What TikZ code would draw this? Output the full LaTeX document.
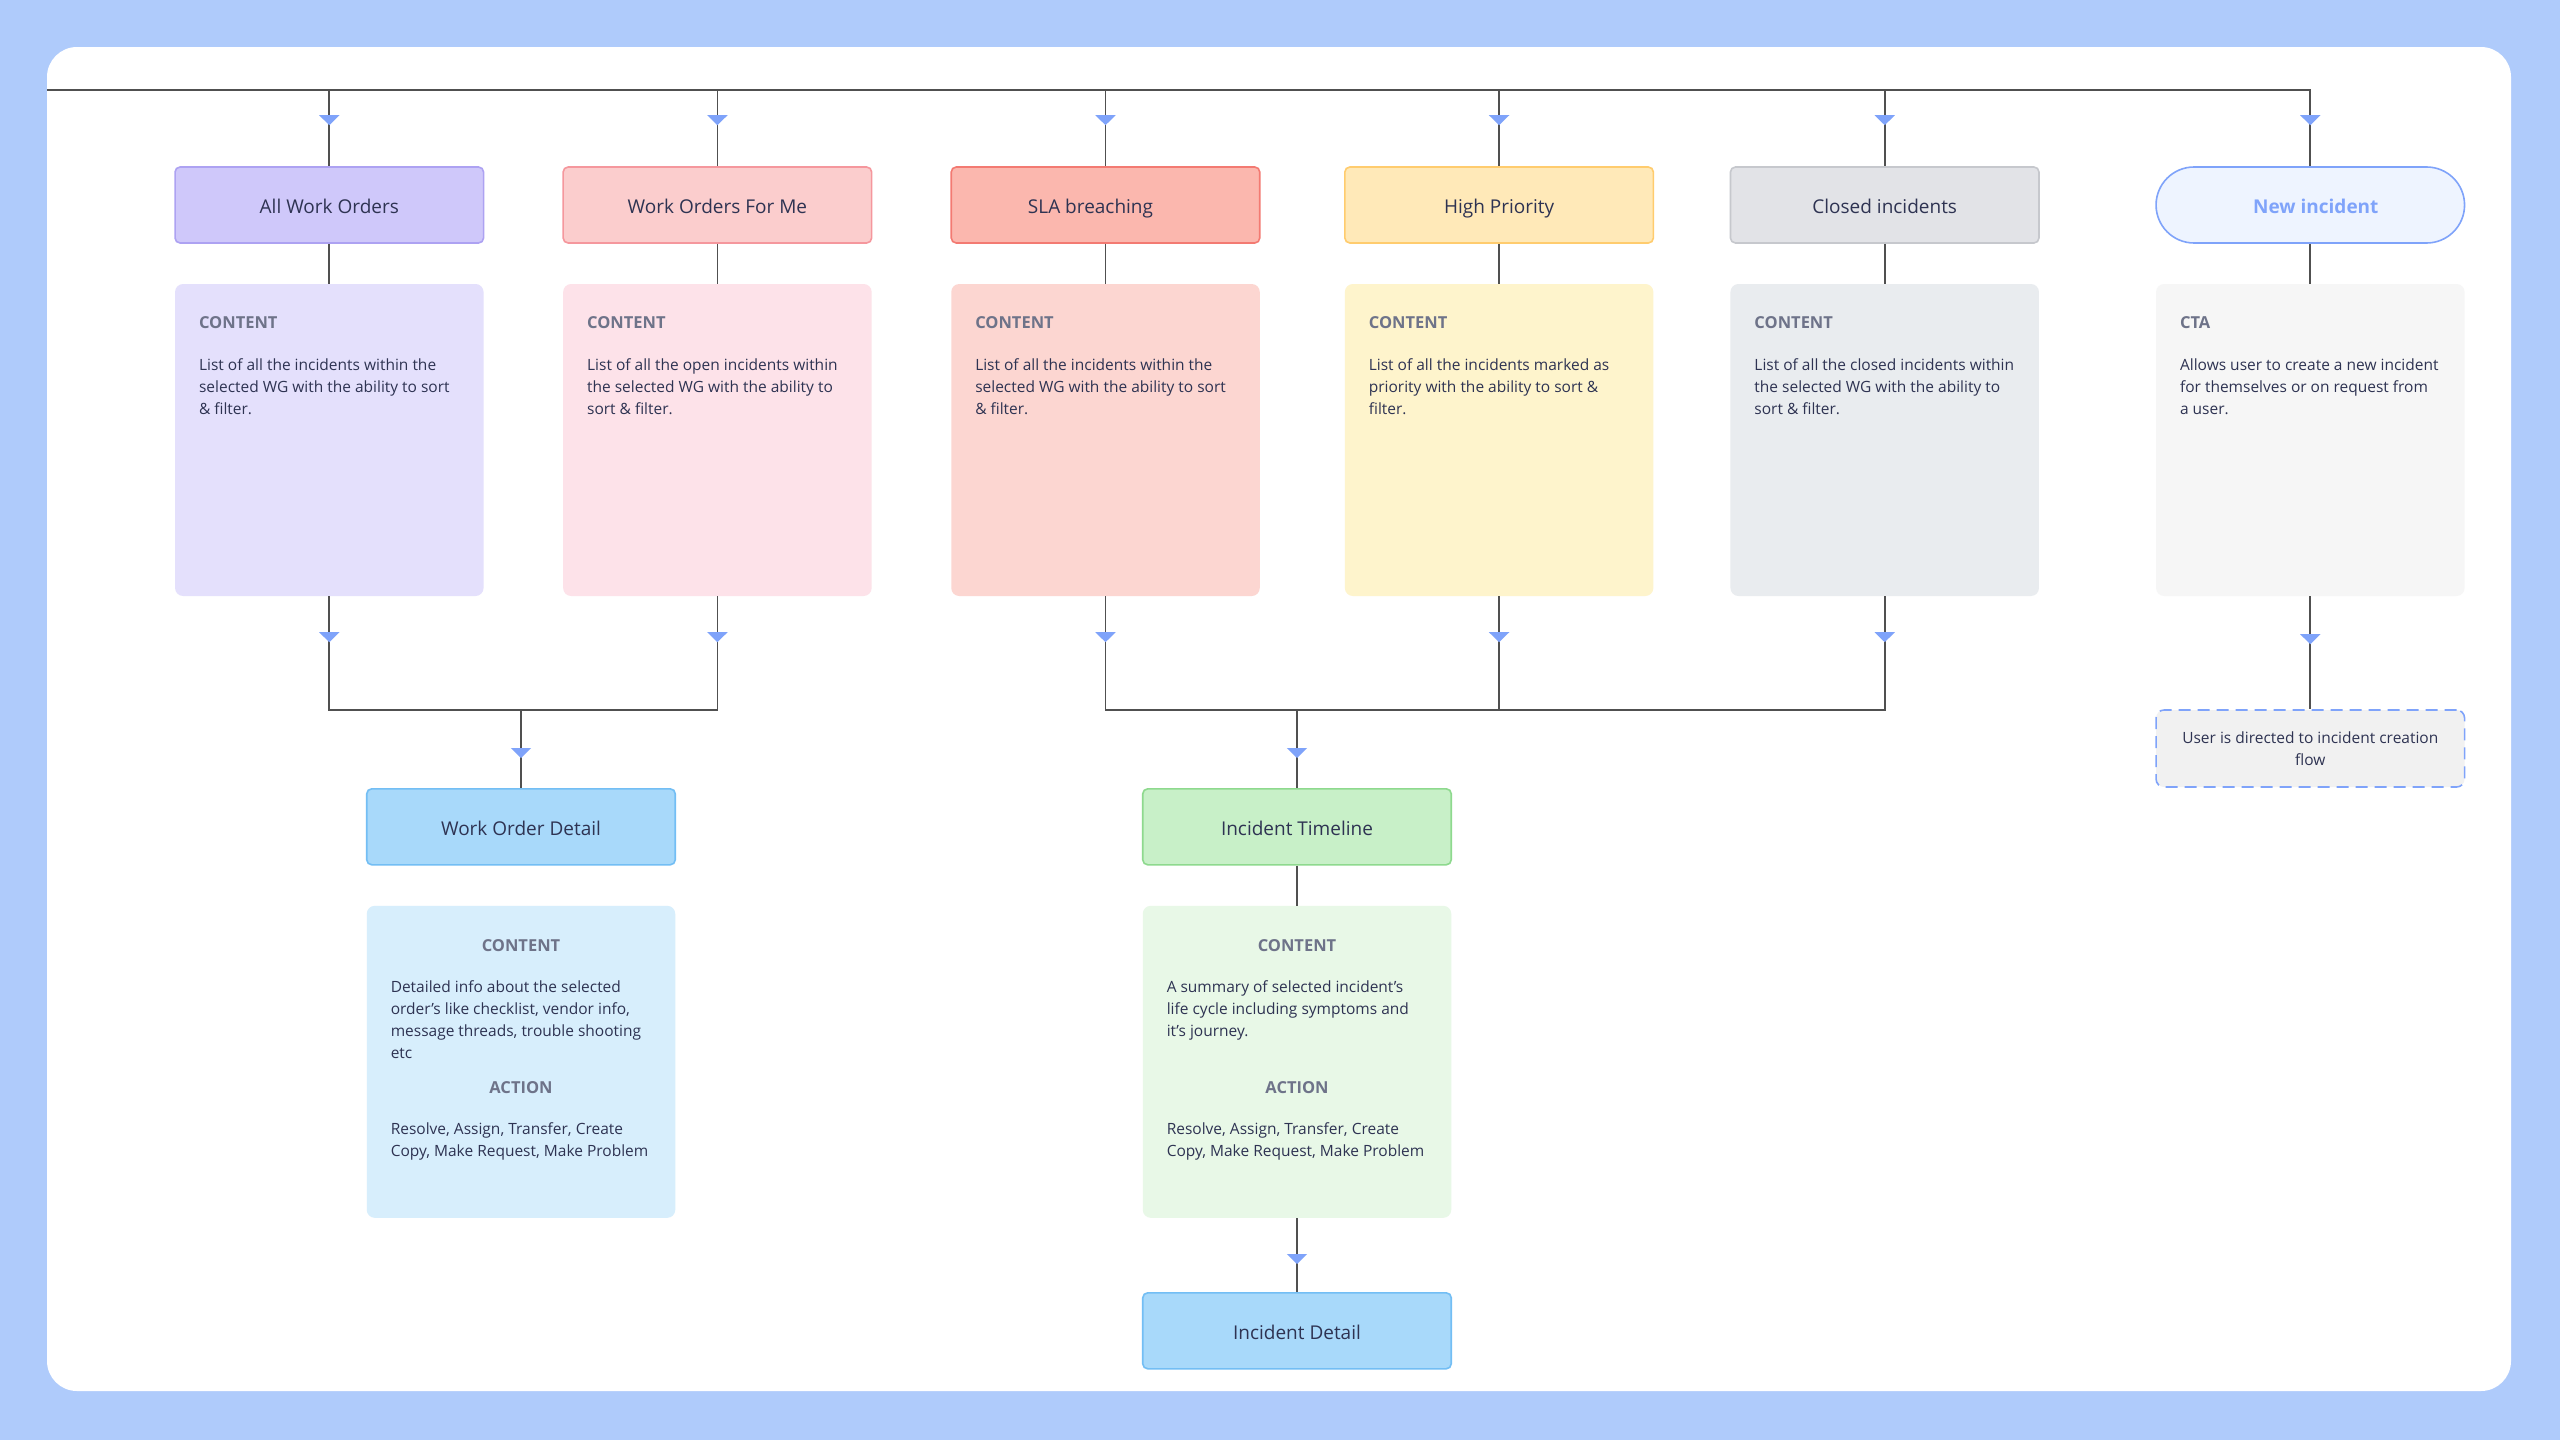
\documentclass[tikz,border=0pt]{standalone}
\usepackage{fontspec}
\setmainfont{Open Sans}
\usetikzlibrary{positioning,calc,backgrounds,arrows.meta,decorations.markings}

\begin{document}
\begin{tikzpicture}[x=1pt, y=-1pt]
      \definecolor{frame}{HTML}{AFCBFB}
      \definecolor{ink}{HTML}{2E3352}
      \definecolor{muted}{HTML}{6E7389}
      \definecolor{wire}{HTML}{505050}
      \definecolor{arrowblue}{HTML}{7FA3FA}
      \definecolor{lilac}{HTML}{CFC8FA}
      \definecolor{darklilac}{HTML}{ADA2F2}
      \definecolor{palelilac}{HTML}{E4E0FC}
      \definecolor{rose}{HTML}{FBCDCD}
      \definecolor{darkrose}{HTML}{F5979D}
      \definecolor{palerose}{HTML}{FDE2E9}
      \definecolor{salmon}{HTML}{FBB7AE}
      \definecolor{darksalmon}{HTML}{F37A72}
      \definecolor{palesalmon}{HTML}{FCD6D1}
      \definecolor{sand}{HTML}{FFE9B8}
      \definecolor{darksand}{HTML}{FFCC6E}
      \definecolor{palesand}{HTML}{FEF4CC}
      \definecolor{stone}{HTML}{E2E3E7}
      \definecolor{darkstone}{HTML}{C6C8CD}
      \definecolor{palestone}{HTML}{E9ECEF}
      \definecolor{sky}{HTML}{A8D9FA}
      \definecolor{darksky}{HTML}{73BEF4}
      \definecolor{palesky}{HTML}{D7EEFC}
      \definecolor{mint}{HTML}{C8F0C8}
      \definecolor{darkmint}{HTML}{8ED98E}
      \definecolor{palemint}{HTML}{E8F8E7}
      \definecolor{ice}{HTML}{EEF4FF}
      \definecolor{fog}{HTML}{F6F6F6}
      \definecolor{mist}{HTML}{F1F1F1}

      \newcommand{\colgap}[0]{78pt}
      \newcommand{\dropgap}[0]{40pt}

      \newcommand{\viewname}[1]{\fontsize{19}{24}\selectfont #1}
      \newcommand{\desctitle}[1]{{\fontsize{16.5}{22}\selectfont\textbf{\color{muted}#1}}}
      \newcommand{\viewdesc}[2]{\fontsize{15.5}{22}\selectfont\begin{tabular}[t]{@{}l@{}}\desctitle{#1}\\[20pt]#2\end{tabular}}
      \newcommand{\descbody}[1]{\fontsize{15.5}{22}\selectfont\begin{tabular}[t]{@{}l@{}}#1\end{tabular}}

      \tikzstyle{block}     = [rectangle, rounded corners=5pt, minimum width=308.5pt, minimum height=76pt, line width=1.6pt, text=ink, inner sep=0pt, text height=20pt, text depth=3.2pt]
      \tikzstyle{sheet}     = [rectangle, rounded corners=8pt, minimum width=308.5pt, minimum height=312pt, inner sep=0pt]
      \tikzstyle{desc}      = [inner sep=0pt, text=ink, anchor=base west]
      \tikzstyle{connector} = [line width=1.8pt, draw=wire]
      \tikzset{flow/.style={connector, decoration={markings, mark=at position #1 with {\arrow{Triangle[width=20pt, length=10pt, color=arrowblue]}}}, postaction={decorate}}}

      \useasboundingbox (0,0) rectangle (2560,1440);

      % list views
      \node [block, draw=darklilac,  fill=lilac]                            (allwo)  at (329.3,205) {\viewname{All Work Orders}};
      \node [block, draw=darkrose,   fill=rose,   right=\colgap of allwo]  (mewo)   {\viewname{Work Orders For Me}};
      \node [block, draw=darksalmon, fill=salmon, right=\colgap of mewo]   (sla)    {\viewname{SLA breaching\hspace*{30pt}}};
      \node [block, draw=darksand,   fill=sand,   right=83.5pt of sla]     (high)   {\viewname{High Priority}};
      \node [block, draw=darkstone,  fill=stone,  right=75.5pt of high]    (closed) {\viewname{Closed incidents}};
      \node [block, draw=arrowblue,  fill=ice,    rounded corners=38pt, right=115.5pt of closed] (newinc) {\viewname{\hspace*{11pt}\textbf{\color{arrowblue}New incident}}};

      \node [sheet, fill=palelilac, below=\dropgap of allwo]  (allcontent)    {};
      \node [sheet, fill=palerose,  below=\dropgap of mewo]   (mecontent)     {};
      \node [sheet, fill=palesalmon,below=\dropgap of sla]    (slacontent)    {};
      \node [sheet, fill=palesand,  below=\dropgap of high]   (highcontent)   {};
      \node [sheet, fill=palestone, below=\dropgap of closed] (closedcontent) {};
      \node [sheet, fill=fog,       below=\dropgap of newinc] (cta)           {};

      \node [desc] (alltext)    at ($(allcontent.north west)+(24,45)$)    {\viewdesc{CONTENT}{List of all the incidents within the\\selected WG with the ability to sort\\\& filter.}};
      \node [desc] (metext)     at ($(mecontent.north west)+(24,45)$)     {\viewdesc{CONTENT}{List of all the open incidents within\\the selected WG with the ability to\\sort \& filter.}};
      \node [desc] (slatext)    at ($(slacontent.north west)+(24,45)$)    {\viewdesc{CONTENT}{List of all the incidents within the\\selected WG with the ability to sort\\\& filter.}};
      \node [desc] (hightext)   at ($(highcontent.north west)+(24,45)$)   {\viewdesc{CONTENT}{List of all the incidents marked as\\priority with the ability to sort \&\\filter.}};
      \node [desc] (closedtext) at ($(closedcontent.north west)+(24,45)$) {\viewdesc{CONTENT}{List of all the closed incidents within\\the selected WG with the ability to\\sort \& filter.}};
      \node [desc] (ctatext)    at ($(cta.north west)+(24,45)$)           {\viewdesc{CTA}{Allows user to create a new incident\\for themselves or on request from\\a user.}};

      % detail views
      \coordinate (wojoin) at (521,710);
      \coordinate (itjoin) at (1297,710);

      \node [block, draw=darksky,  fill=sky,  below=78pt of wojoin]        (wodetail)  {\viewname{Work Order Detail}};
      \node [sheet, fill=palesky,  below=\dropgap of wodetail]             (wocontent) {};
      \node [block, draw=darkmint, fill=mint, below=78pt of itjoin]        (timeline)  {\viewname{Incident Timeline}};
      \node [sheet, fill=palemint, below=\dropgap of timeline]             (itcontent) {};
      \node [block, draw=darksky,  fill=sky,  below=74pt of itcontent]     (incdetail) {\viewname{Incident Detail}};
      \node [block, draw=arrowblue, fill=mist, rounded corners=8pt, dash pattern=on 12pt off 7pt, minimum height=77pt, text height=, text depth=, align=center, font=\fontsize{15.5}{22}\selectfont, below=113pt of cta] (redirect) {User is directed to incident creation\\flow};

      \node [desc, anchor=base] (wocontenthead) at ($(wocontent.north)+(0,46)$)        {\desctitle{CONTENT}};
      \node [desc]              (wocontentbody) at ($(wocontent.north west)+(24,87)$)  {\descbody{Detailed info about the selected\\order's like checklist, vendor info,\\message threads, trouble shooting\\etc}};
      \node [desc, anchor=base] (woactionhead)  at ($(wocontent.north)+(0,188)$)       {\desctitle{ACTION}};
      \node [desc]              (woactionbody)  at ($(wocontent.north west)+(24,229)$) {\descbody{Resolve, Assign, Transfer, Create\\Copy, Make Request, Make Problem}};

      \node [desc, anchor=base] (itcontenthead) at ($(itcontent.north)+(0,46)$)        {\desctitle{CONTENT}};
      \node [desc]              (itcontentbody) at ($(itcontent.north west)+(24,87)$)  {\descbody{A summary of selected incident's\\life cycle including symptoms and\\it's journey.}};
      \node [desc, anchor=base] (itactionhead)  at ($(itcontent.north)+(0,188)$)       {\desctitle{ACTION}};
      \node [desc]              (itactionbody)  at ($(itcontent.north west)+(24,229)$) {\descbody{Resolve, Assign, Transfer, Create\\Copy, Make Request, Make Problem}};

      % connectors
      \coordinate (busstart) at (47,90);
      \draw [flow=-41pt] (busstart) -| (newinc);
      \draw [flow=-41pt] (allwo |- busstart)  -- (allwo);
      \draw [flow=-41pt] (mewo |- busstart)   -- (mewo);
      \draw [flow=-41pt] (sla |- busstart)    -- (sla);
      \draw [flow=-41pt] (high |- busstart)   -- (high);
      \draw [flow=-41pt] (closed |- busstart) -- (closed);

      \draw [connector] (allwo)  -- (allcontent);
      \draw [connector] (mewo)   -- (mecontent);
      \draw [connector] (sla)    -- (slacontent);
      \draw [connector] (high)   -- (highcontent);
      \draw [connector] (closed) -- (closedcontent);
      \draw [connector] (newinc) -- (cta);

      \draw [flow=46pt] (allcontent)    |- (wojoin);
      \draw [flow=46pt] (mecontent)     |- (wojoin);
      \draw [flow=48pt] (wojoin)        -- (wodetail);
      \draw [flow=46pt] (slacontent)    |- (itjoin);
      \draw [flow=46pt] (highcontent)   |- (itjoin);
      \draw [flow=46pt] (closedcontent) |- (itjoin);
      \draw [flow=48pt] (itjoin)        -- (timeline);
      \draw [connector] (timeline)      -- (itcontent);
      \draw [flow=46pt] (itcontent)     -- (incdetail);
      \draw [flow=48pt] (cta)           -- (redirect);

      \begin{scope}[on background layer]
        \fill [frame] (0,0) rectangle (2560,1440);
        \fill [white, rounded corners=30pt] (47,47) rectangle (2511,1391);
      \end{scope}
    \end{tikzpicture}
\end{document}
